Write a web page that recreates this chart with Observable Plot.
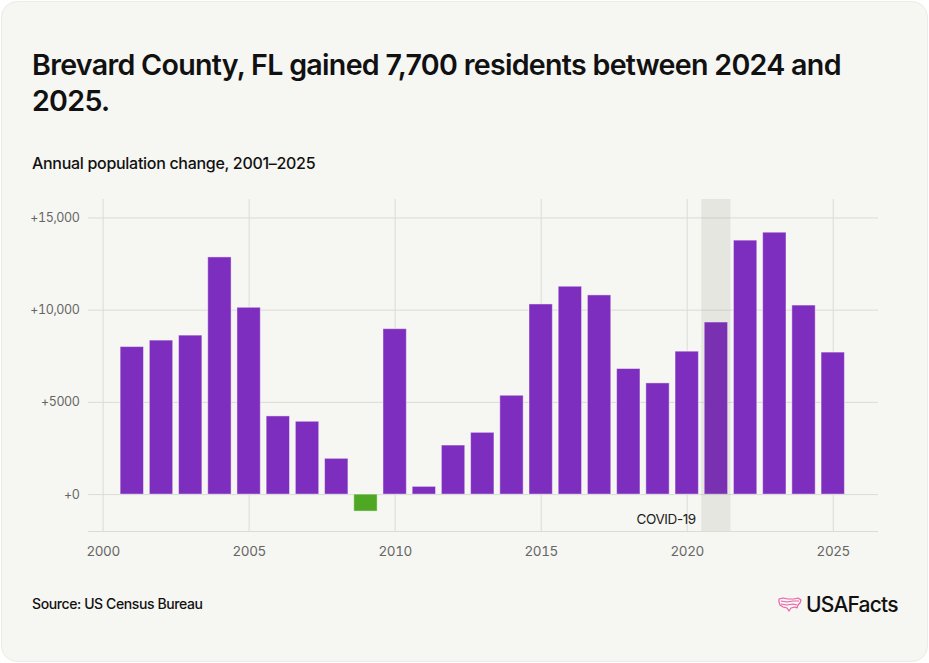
<!DOCTYPE html>
<html>
<head>
<meta charset="utf-8">
<script src="https://cdn.jsdelivr.net/npm/d3@7"></script>
<script src="https://cdn.jsdelivr.net/npm/@observablehq/plot@0.6"></script>
<style>
  html, body { margin: 0; padding: 0; background: #ffffff; }
  body { width: 929px; height: 663px; overflow: hidden; font-family: Inter, "Noto Sans", sans-serif; }
  .card { position: absolute; left: 1px; top: 1px; width: 925px; height: 659px; background: #f6f6f2; border: 1px solid #ececE6; border-radius: 16px; }
  .title { position: absolute; left: 32px; top: 47px; width: 850px; font-size: 28.6px; line-height: 36px; font-weight: 600; color: #111; letter-spacing: -0.7px; }
  .subtitle { position: absolute; left: 32px; top: 153px; font-size: 16px; font-weight: 500; color: #111; letter-spacing: -0.3px; }
  .source { position: absolute; left: 32px; top: 595px; font-size: 14px; font-weight: 500; color: #111; letter-spacing: -0.4px; }
  .logo { position: absolute; left: 778px; top: 592px; display: flex; align-items: center; gap: 3px; font-size: 21px; font-weight: 500; color: #111; letter-spacing: -0.8px; }
  #chart { position: absolute; left: 0; top: 185px; }
  #chart text { letter-spacing: -0.4px; }
</style>
</head>
<body>
<div class="card"></div>
<div class="title">Brevard County, FL gained 7,700 residents between 2024 and 2025.</div>
<div class="subtitle">Annual population change, 2001–2025</div>
<div id="chart"></div>
<div class="source">Source: US Census Bureau</div>
<div class="logo">
  <svg width="25" height="17" viewBox="0 0 25 17"><path d="M1 3 L5 2 L10 3 L16 3 L20 2 L23 4 L22 7 L20 9 L19 12 L17 11 L13 12 L11 15 L9 12 L5 11 L2 9 L1 6 Z M3 5 L9 6 L15 5 L21 5 M3 8 L9 9 L15 8 L19 9" fill="none" stroke="#ee5fa7" stroke-width="1.2" stroke-linejoin="round"/></svg>
  <span>USAFacts</span>
</div>
<script>
const years = [2001, 2002, 2003, 2004, 2005, 2006, 2007, 2008, 2009, 2010, 2011, 2012, 2013, 2014, 2015, 2016, 2017, 2018, 2019, 2020, 2021, 2022, 2023, 2024, 2025];
const changes = [8000, 8350, 8620, 12860, 10130, 4240, 3950, 1940, -920, 8970, 420, 2660, 3350, 5360, 10310, 11270, 10800, 6810, 6030, 7750, 9330, 13770, 14200, 10250, 7700];
const yTicks = [0, 5000, 10000, 15000];
const yTickLabels = ["+0", "+5000", "+10,000", "+15,000"];
const xTicks = [2000, 2005, 2010, 2015, 2020, 2025];
const covidStart = [2020.5];
const covidEnd = [2021.5];
const covidLabel = ["COVID-19"];

const data = years.map((y, i) => ({year: y, value: changes[i]}));
const covid = covidStart.map((s, i) => ({start: s, end: covidEnd[i], label: covidLabel[i]}));
const yLabelMap = new Map(yTicks.map((t, i) => [t, yTickLabels[i]]));

const chart = Plot.plot({
  width: 929,
  height: 385,
  marginLeft: 88,
  marginRight: 51,
  marginTop: 14,
  marginBottom: 39,
  style: {background: "transparent", fontFamily: "Inter, 'Noto Sans', sans-serif"},
  x: {domain: [1999.5, 2026.55], ticks: xTicks, tickFormat: d => String(d), label: null},
  y: {domain: [-2000, 16000], ticks: yTicks, tickFormat: d => yLabelMap.get(d), label: null},
  marks: [
    Plot.ruleX(xTicks, {stroke: "#dcdcd6", strokeWidth: 1}),
    Plot.ruleY(yTicks, {stroke: "#dcdcd6", strokeWidth: 1}),
    Plot.ruleY([-2000], {stroke: "#dcdcd6", strokeWidth: 1}),
    Plot.rectY(data, {
      x1: d => d.year - 0.4,
      x2: d => d.year + 0.4,
      y1: 0,
      y2: "value",
      fill: d => d.value < 0 ? "#4ea824" : "#7e2ebe",
      stroke: "#ffffff",
      strokeOpacity: 0.45,
      strokeWidth: 1
    }),
    Plot.rectX(covid, {x1: "start", x2: "end", y1: -2000, y2: 16000, fill: "#4a4a30", fillOpacity: 0.085}),
    Plot.text(covid, {x: "start", y: -1350, text: "label", textAnchor: "end", dx: -6, fontSize: 13.5, fill: "#222"}),
    Plot.axisX({ticks: xTicks, tickSize: 0, tickPadding: 15, fontSize: 13.5, fill: "#666", tickFormat: d => String(d)}),
    Plot.axisY({ticks: yTicks, tickSize: 0, tickPadding: 9, fontSize: 12.5, fill: "#666", tickFormat: d => yLabelMap.get(d)})
  ]
});
document.getElementById("chart").appendChild(chart);
</script>
</body>
</html>
